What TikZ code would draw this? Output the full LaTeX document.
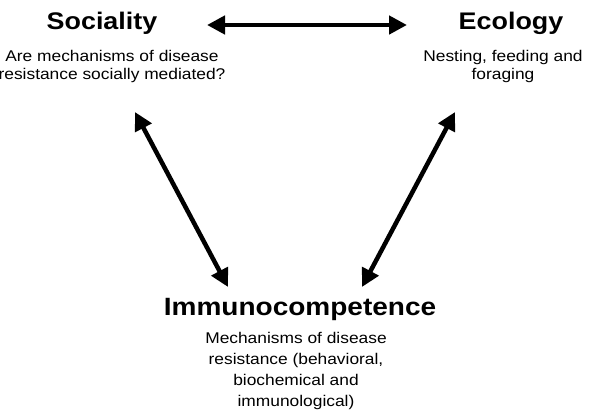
\documentclass[tikz,border=0pt]{standalone}
\usepackage{fontspec}
\setmainfont{Liberation Sans}[FakeStretch=1.12]
\usetikzlibrary{arrows.meta}

\begin{document}
\begin{tikzpicture}[x=1pt,y=-1pt,
  heading/.style={font=\bfseries\fontsize{24}{28}\selectfont, anchor=base, inner sep=0pt},
  bigheading/.style={font=\bfseries\fontsize{25}{29}\selectfont, anchor=base, inner sep=0pt},
  note/.style={font=\fontsize{15.5}{18}\selectfont, align=center, anchor=base, inner sep=0pt},
  longnote/.style={font=\fontsize{15.5}{21}\selectfont, align=center, anchor=base, inner sep=0pt},
  link/.style={line width=4.5pt, {Triangle[length=18pt,width=18pt]}-{Triangle[length=18pt,width=18pt]}}]
\useasboundingbox (0,0) rectangle (599,413);

% three themes (multi-line notes are placed by the baseline of their last line)
\node[heading] (soc) at (102,29) {Sociality};
\node[note] (socnote) at (112,79) {Are mechanisms of disease\\resistance socially mediated?};

\node[heading] (eco) at (511,29) {Ecology};
\node[note] (econote) at (503,79) {Nesting, feeding and\\foraging};

\node[bigheading] (imm) at (300,315) {Immunocompetence};
\node[longnote] (immnote) at (296,406) {Mechanisms of disease\\resistance (behavioral,\\biochemical and\\immunological)};

% arrow end points
\coordinate (socR) at (207,25);
\coordinate (ecoL) at (407,25);
\coordinate (socB) at (135,112);
\coordinate (immL) at (228,287);
\coordinate (ecoB) at (455,112);
\coordinate (immR) at (362,287);

% two-way links
\draw[link] (socR) -- (ecoL);
\draw[link] (socB) -- (immL);
\draw[link] (ecoB) -- (immR);
\end{tikzpicture}
\end{document}
